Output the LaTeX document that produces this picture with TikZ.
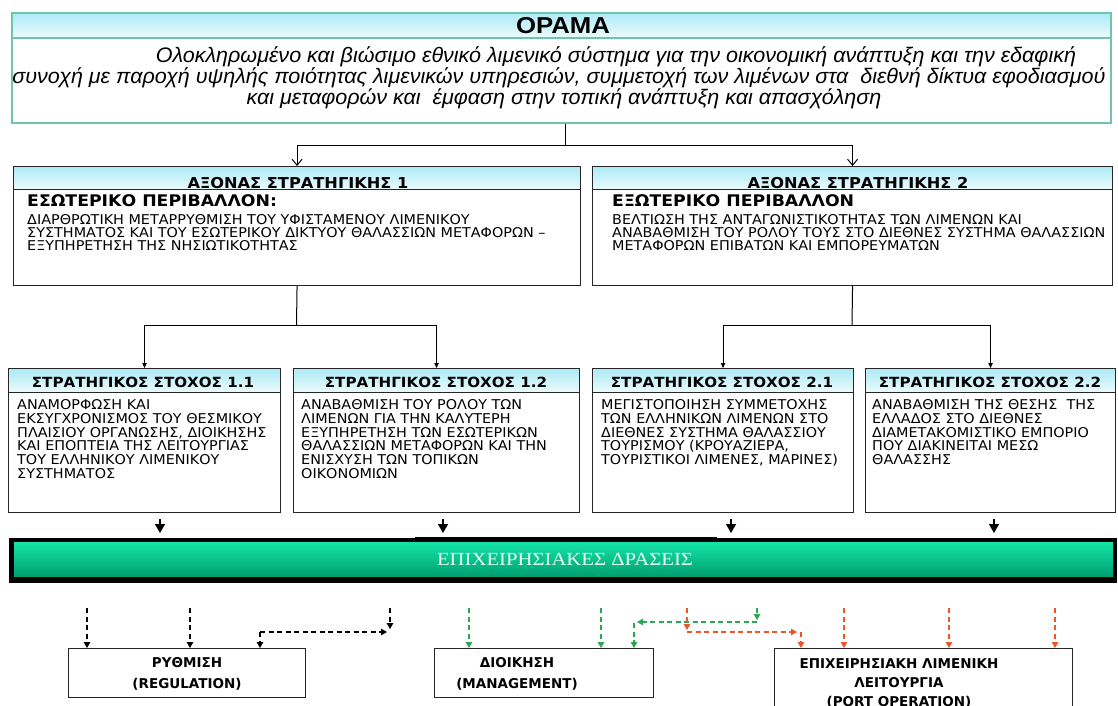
\documentclass[tikz,border=0pt]{standalone}
\usepackage{fontspec}
\setmainfont{DejaVu Sans}
\newfontfamily\tah[FakeStretch=1.065]{DejaVu Sans}
\newfontfamily\tahh[FakeStretch=1.08]{DejaVu Sans}
\newfontfamily\tahb[FakeStretch=1.0]{DejaVu Sans}
\newfontfamily\ari[FakeStretch=1.025]{Liberation Sans}
\newfontfamily\arib[FakeStretch=1.12]{Liberation Sans}
\newfontfamily\tms[FakeStretch=1.12]{Liberation Serif}
\usetikzlibrary{arrows.meta,calc}
\definecolor{hdrtop}{RGB}{172,234,246}
\definecolor{hdrbot}{RGB}{236,251,252}
\definecolor{opline}{RGB}{112,196,172}
\definecolor{bartop}{RGB}{20,228,168}
\definecolor{barbot}{RGB}{0,160,112}
\definecolor{bartxt}{RGB}{225,250,240}
\definecolor{mgreen}{RGB}{45,165,85}
\definecolor{mred}{RGB}{240,85,40}
\newcommand{\tstrut}{\rule{0pt}{11pt}}
\tikzset{
  frame/.style={draw=black!85, line width=1.1pt, fill=white, inner sep=0pt, anchor=north west},
  hdrbox/.style={draw=black!85, line width=1.1pt, top color=hdrtop, bottom color=hdrbot, inner sep=0pt, anchor=north west},
  axtitle/.style={anchor=base, inner sep=0pt, font=\tahh\bfseries\fontsize{15}{15}\selectfont},
  gltitle/.style={anchor=base, inner sep=0pt, font=\tahh\bfseries\fontsize{14}{14}\selectfont},
  envtitle/.style={anchor=base west, inner sep=0pt, font=\tahh\bfseries\fontsize{16}{16}\selectfont},
  bodytxt/.style={anchor=north west, inner sep=0pt, align=left, font=\tah\fontsize{13.5}{13}\selectfont},
  goaltxt/.style={bodytxt, font=\tah\fontsize{13.5}{13.9}\selectfont},
  acttxt/.style={anchor=north, inner sep=0pt, align=center, font=\tahb\bfseries\fontsize{13.5}{21}\selectfont},
  porttxt/.style={acttxt, font=\tahb\bfseries\fontsize{13.5}{19}\selectfont},
  openarr/.style={line width=1pt, -{Straight Barb[length=6pt,width=10pt]}},
  smallarr/.style={line width=1pt, -{Triangle[length=5pt,width=4.5pt]}},
  fatarr/.style={line width=1.4pt, -{Triangle[length=9pt,width=10pt]}},
  dsh/.style={line width=1.1pt, dash pattern=on 5pt off 3.5pt, -{Triangle[length=6pt,width=6.5pt]}},
}
\begin{document}
\begin{tikzpicture}[x=1pt,y=-1pt]
\useasboundingbox (0,0) rectangle (1118,706);

% ---------- vision ----------
\node[frame, draw=opline, line width=1.8pt, minimum width=1099pt, minimum height=110pt] (op) at (11,12) {};
\node[hdrbox, draw=opline, line width=1.8pt, minimum width=1099pt, minimum height=25pt] (oph) at (11,12) {};
\node[inner sep=0pt, font=\arib\bfseries\fontsize{23}{23}\selectfont] (opt) at (563,25.5) {ΟΡΑΜΑ};
\node[anchor=north, inner sep=0pt, align=center, font=\ari\itshape\fontsize{21}{20}\selectfont] (opx) at (559,44)
 {\rule{0pt}{18pt}\hspace*{114pt}Ολοκληρωμένο και βιώσιμο εθνικό λιμενικό σύστημα για την οικονομική ανάπτυξη και την εδαφική\\
  συνοχή με παροχή υψηλής ποιότητας λιμενικών υπηρεσιών, συμμετοχή των λιμένων στα\ \ διεθνή δίκτυα εφοδιασμού\\
  \hspace*{10pt}και μεταφορών και\ \ έμφαση στην τοπική ανάπτυξη και απασχόληση};

% ---------- strategy axes ----------
\node[frame, minimum width=567pt, minimum height=119pt] (ax1) at (13,166) {};
\node[hdrbox, minimum width=567pt, minimum height=23pt] (ax1h) at (13,166) {};
\node[axtitle] (ax1t) at (298,188) {ΑΞΟΝΑΣ ΣΤΡΑΤΗΓΙΚΗΣ 1};
\node[envtitle] (ax1s) at (27,206) {ΕΣΩΤΕΡΙΚΟ ΠΕΡΙΒΑΛΛΟΝ:};
\node[bodytxt] (ax1b) at (27,213) {\tstrut ΔΙΑΡΘΡΩΤΙΚΗ ΜΕΤΑΡΡΥΘΜΙΣΗ ΤΟΥ ΥΦΙΣΤΑΜΕΝΟΥ ΛΙΜΕΝΙΚΟΥ\\
 ΣΥΣΤΗΜΑΤΟΣ ΚΑΙ ΤΟΥ ΕΣΩΤΕΡΙΚΟΥ ΔΙΚΤΥΟΥ ΘΑΛΑΣΣΙΩΝ ΜΕΤΑΦΟΡΩΝ –\\
 ΕΞΥΠΗΡΕΤΗΣΗ ΤΗΣ ΝΗΣΙΩΤΙΚΟΤΗΤΑΣ};

\node[frame, minimum width=520pt, minimum height=119pt] (ax2) at (592,166) {};
\node[hdrbox, minimum width=520pt, minimum height=23pt] (ax2h) at (592,166) {};
\node[axtitle] (ax2t) at (858,188) {ΑΞΟΝΑΣ ΣΤΡΑΤΗΓΙΚΗΣ 2};
\node[envtitle] (ax2s) at (612,206) {ΕΞΩΤΕΡΙΚΟ ΠΕΡΙΒΑΛΛΟΝ};
\node[bodytxt] (ax2b) at (612,213) {\tstrut ΒΕΛΤΙΩΣΗ ΤΗΣ ΑΝΤΑΓΩΝΙΣΤΙΚΟΤΗΤΑΣ ΤΩΝ ΛΙΜΕΝΩΝ ΚΑΙ\\
 ΑΝΑΒΑΘΜΙΣΗ ΤΟΥ ΡΟΛΟΥ ΤΟΥΣ ΣΤΟ ΔΙΕΘΝΕΣ ΣΥΣΤΗΜΑ ΘΑΛΑΣΣΙΩΝ\\
 ΜΕΤΑΦΟΡΩΝ ΕΠΙΒΑΤΩΝ ΚΑΙ ΕΜΠΟΡΕΥΜΑΤΩΝ};

% ---------- strategic goals ----------
\node[frame, minimum width=272pt, minimum height=144pt] (g11) at (8,368) {};
\node[hdrbox, minimum width=272pt, minimum height=24pt] (g11h) at (8,368) {};
\node[gltitle] (g11t) at (143,387) {ΣΤΡΑΤΗΓΙΚΟΣ ΣΤΟΧΟΣ 1.1};
\node[goaltxt] (g11b) at (17,398) {\tstrut ΑΝΑΜΟΡΦΩΣΗ ΚΑΙ\\ ΕΚΣΥΓΧΡΟΝΙΣΜΟΣ ΤΟΥ ΘΕΣΜΙΚΟΥ\\ ΠΛΑΙΣΙΟΥ ΟΡΓΑΝΩΣΗΣ, ΔΙΟΙΚΗΣΗΣ\\ ΚΑΙ ΕΠΟΠΤΕΙΑ ΤΗΣ ΛΕΙΤΟΥΡΓΙΑΣ\\ ΤΟΥ ΕΛΛΗΝΙΚΟΥ ΛΙΜΕΝΙΚΟΥ\\ ΣΥΣΤΗΜΑΤΟΣ};

\node[frame, minimum width=286pt, minimum height=144pt] (g12) at (293,368) {};
\node[hdrbox, minimum width=286pt, minimum height=24pt] (g12h) at (293,368) {};
\node[gltitle] (g12t) at (436,387) {ΣΤΡΑΤΗΓΙΚΟΣ ΣΤΟΧΟΣ 1.2};
\node[goaltxt] (g12b) at (301,398) {\tstrut ΑΝΑΒΑΘΜΙΣΗ ΤΟΥ ΡΟΛΟΥ ΤΩΝ\\ ΛΙΜΕΝΩΝ ΓΙΑ ΤΗΝ ΚΑΛΥΤΕΡΗ\\ ΕΞΥΠΗΡΕΤΗΣΗ ΤΩΝ ΕΣΩΤΕΡΙΚΩΝ\\ ΘΑΛΑΣΣΙΩΝ ΜΕΤΑΦΟΡΩΝ ΚΑΙ ΤΗΝ\\ ΕΝΙΣΧΥΣΗ ΤΩΝ ΤΟΠΙΚΩΝ\\ ΟΙΚΟΝΟΜΙΩΝ};

\node[frame, minimum width=261pt, minimum height=144pt] (g21) at (592,368) {};
\node[hdrbox, minimum width=261pt, minimum height=24pt] (g21h) at (592,368) {};
\node[gltitle] (g21t) at (722,387) {ΣΤΡΑΤΗΓΙΚΟΣ ΣΤΟΧΟΣ 2.1};
\node[goaltxt] (g21b) at (601,398) {\tstrut ΜΕΓΙΣΤΟΠΟΙΗΣΗ ΣΥΜΜΕΤΟΧΗΣ\\ ΤΩΝ ΕΛΛΗΝΙΚΩΝ ΛΙΜΕΝΩΝ ΣΤΟ\\ ΔΙΕΘΝΕΣ ΣΥΣΤΗΜΑ ΘΑΛΑΣΣΙΟΥ\\ ΤΟΥΡΙΣΜΟΥ (ΚΡΟΥΑΖΙΕΡΑ,\\ ΤΟΥΡΙΣΤΙΚΟΙ ΛΙΜΕΝΕΣ, ΜΑΡΙΝΕΣ)};

\node[frame, minimum width=250pt, minimum height=144pt] (g22) at (865,368) {};
\node[hdrbox, minimum width=250pt, minimum height=24pt] (g22h) at (865,368) {};
\node[gltitle] (g22t) at (990,387) {ΣΤΡΑΤΗΓΙΚΟΣ ΣΤΟΧΟΣ 2.2};
\node[goaltxt] (g22b) at (872,398) {\tstrut ΑΝΑΒΑΘΜΙΣΗ ΤΗΣ ΘΕΣΗΣ\ \ ΤΗΣ\\ ΕΛΛΑΔΟΣ ΣΤΟ ΔΙΕΘΝΕΣ\\ ΔΙΑΜΕΤΑΚΟΜΙΣΤΙΚΟ ΕΜΠΟΡΙΟ\\ ΠΟΥ ΔΙΑΚΙΝΕΙΤΑΙ ΜΕΣΩ\\ ΘΑΛΑΣΣΗΣ};

% ---------- tree connectors ----------
\coordinate (j0) at (565,145);
\draw[line width=1pt] (op.south -| j0) -- (j0);
\draw[openarr] (j0) -| (ax1.north);
\draw[openarr] (j0) -| (ax2.north);
\coordinate (j1) at (296.5,325);
\draw[line width=1pt] (ax1.south) -- (j1);
\draw[smallarr] (j1) -| (g11.north);
\draw[smallarr] (j1) -| (g12.north);
\coordinate (j2) at (852,325);
\draw[line width=1pt] (ax2.south) -- (j2);
\draw[smallarr] (j2) -| (g21.north);
\draw[smallarr] (j2) -| (g22.north);

% ---------- operational actions bar ----------
\coordinate (fa1) at (160,519); \coordinate (fb1) at (160,533);
\coordinate (fa2) at (443,519); \coordinate (fb2) at (443,533);
\coordinate (fa3) at (731,519); \coordinate (fb3) at (731,533);
\coordinate (fa4) at (994,519); \coordinate (fb4) at (994,533);
\draw[fatarr] (fa1) -- (fb1);
\draw[fatarr] (fa2) -- (fb2);
\draw[fatarr] (fa3) -- (fb3);
\draw[fatarr] (fa4) -- (fb4);

\node[fill=black, inner sep=0pt, anchor=north west, minimum width=1108pt, minimum height=45pt] (barbg) at (9,538) {};
\node[top color=bartop, bottom color=barbot, inner sep=0pt, anchor=north west, minimum width=1099pt, minimum height=34pt] (bar) at (14,542) {};
\coordinate (bl) at (415,538.5); \coordinate (br) at (717,538.5);
\draw[line width=2.5pt] (bl) -- (br);
\node[inner sep=0pt, text=bartxt, font=\tms\fontsize{18.5}{18.5}\selectfont] (bart) at (565,559.5) {ΕΠΙΧΕΙΡΗΣΙΑΚΕΣ ΔΡΑΣΕΙΣ};

% ---------- action boxes ----------
\node[frame, minimum width=237pt, minimum height=49pt] (reg) at (68,648) {};
\node[acttxt] (regt) at (187,656) {\tstrut ΡΥΘΜΙΣΗ\\ (REGULATION)};
\node[frame, minimum width=219pt, minimum height=49pt] (mg) at (434,648) {};
\node[acttxt] (mgt) at (517,656) {\tstrut ΔΙΟΙΚΗΣΗ\\ (MANAGEMENT)};
\node[frame, minimum width=298pt, minimum height=80pt] (port) at (774,648) {};
\node[porttxt] (portt) at (899,657) {\tstrut ΕΠΙΧΕΙΡΗΣΙΑΚΗ ΛΙΜΕΝΙΚΗ\\ ΛΕΙΤΟΥΡΓΙΑ\\ (PORT OPERATION)};

% black dashed (regulation)
\coordinate (b1) at (87,608);
\coordinate (b2) at (190,608);
\coordinate (b3) at (390,608); \coordinate (b3e) at (390,629);
\coordinate (b4) at (260,632); \coordinate (b4e) at (387,632);
\draw[dsh] (b1) -- (b1 |- reg.north);
\draw[dsh] (b2) -- (b2 |- reg.north);
\draw[dsh] (b3) -- (b3e);
\draw[dsh] (b4) -- (b4e);
\draw[dsh] (b4) -- (b4 |- reg.north);

% green dashed (management)
\coordinate (k1) at (469,608);
\coordinate (k2) at (601,608);
\coordinate (k3) at (757,608); \coordinate (k3e) at (757,620);
\coordinate (k4) at (757,622); \coordinate (k4e) at (637,622);
\coordinate (k5) at (634,623);
\draw[dsh, mgreen] (k1) -- (k1 |- mg.north);
\draw[dsh, mgreen] (k2) -- (k2 |- mg.north);
\draw[dsh, mgreen] (k3) -- (k3e);
\draw[dsh, mgreen] (k4) -- (k4e);
\draw[dsh, mgreen] (k5) -- (k5 |- mg.north);

% red dashed (port operation)
\coordinate (r1) at (687,608); \coordinate (r1e) at (687,630);
\coordinate (r2) at (687,632); \coordinate (r2e) at (797,632);
\coordinate (r3) at (801,632);
\coordinate (r4) at (844,608);
\coordinate (r5) at (949,608);
\coordinate (r6) at (1055,608);
\draw[dsh, mred] (r1) -- (r1e);
\draw[dsh, mred] (r2) -- (r2e);
\draw[dsh, mred] (r3) -- (r3 |- port.north);
\draw[dsh, mred] (r4) -- (r4 |- port.north);
\draw[dsh, mred] (r5) -- (r5 |- port.north);
\draw[dsh, mred] (r6) -- (r6 |- port.north);
\end{tikzpicture}
\end{document}
